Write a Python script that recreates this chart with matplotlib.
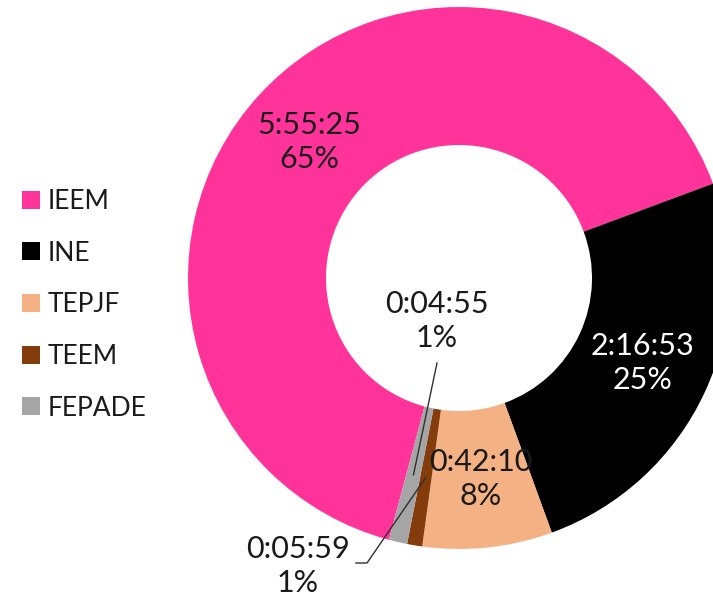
import numpy as np
import matplotlib.pyplot as plt
from matplotlib.patches import Patch

plt.rcParams['font.family'] = ['Lato', 'DejaVu Sans']

# Datos: tiempo por institución
etiquetas = ['IEEM', 'INE', 'TEPJF', 'TEEM', 'FEPADE']
tiempos = ['5:55:25', '2:16:53', '0:42:10', '0:04:55', '0:05:59']
colores = ['#FF3399', '#000000', '#F4B183', '#843C0C', '#A5A5A5']
color_texto = ['#1a1a1a', '#FFFFFF', '#1a1a1a', '#1a1a1a', '#1a1a1a']


def a_segundos(t):
    h, m, s = (int(x) for x in t.split(':'))
    return h * 3600 + m * 60 + s


segundos = np.array([a_segundos(t) for t in tiempos])
porcentajes = segundos / segundos.sum() * 100

W, H = 713, 599
fig = plt.figure(figsize=(W / 100, H / 100), dpi=100)
ax = fig.add_axes([0, 0, 1, 1])

cx, cy = 459, H - 278
R = 271
ancho = 138

wedges, _ = ax.pie(segundos, colors=colores, startangle=255, counterclock=False,
                   center=(cx, cy), radius=R, frame=True,
                   wedgeprops=dict(width=ancho, linewidth=0))
ax.set_xlim(0, W)
ax.set_ylim(0, H)
ax.set_aspect('equal')
ax.axis('off')

r_med = R - ancho / 2
fs = 22
ls = 1.27


def punto_medio(w):
    ang = np.deg2rad((w.theta1 + w.theta2) / 2)
    return cx + r_med * np.cos(ang), cy + r_med * np.sin(ang)


# Etiquetas dentro del anillo (segmentos grandes)
for i in range(3):
    x, y = punto_medio(wedges[i])
    ax.text(x, y, f"{tiempos[i]}\n{porcentajes[i]:.0f}%", ha='center', va='center',
            fontsize=fs, color=color_texto[i], linespacing=ls)

# Etiquetas con líneas guía (segmentos pequeños)
x4, y4 = punto_medio(wedges[4])
ax.text(437, H - 321, f"{tiempos[3]}\n{porcentajes[3]:.0f}%", ha='center', va='center',
        fontsize=fs, color=color_texto[3], linespacing=ls)
ax.plot([437, x4], [H - 363, y4], color='#303030', lw=1)

x3, y3 = punto_medio(wedges[3])
ax.text(298, H - 566, f"{tiempos[4]}\n{porcentajes[4]:.0f}%", ha='center', va='center',
        fontsize=fs, color=color_texto[4], linespacing=ls)
ax.plot([x3, 367, 356], [y3, H - 563, H - 563], color='#303030', lw=1)

handles = [Patch(facecolor=c, edgecolor='none') for c in colores]
fig.legend(handles, etiquetas, loc='upper left', bbox_to_anchor=(22 / W, 1 - 189 / H),
           frameon=False, fontsize=19, handlelength=0.68, handleheight=0.68,
           handletextpad=0.3, labelspacing=1.01, borderpad=0, borderaxespad=0,
           labelcolor='#1a1a1a')

fig.savefig('out.png', dpi=100)
